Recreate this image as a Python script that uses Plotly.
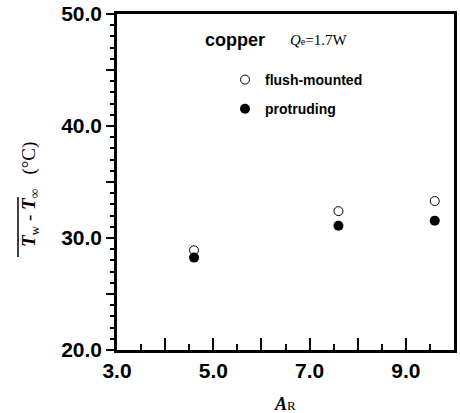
import plotly.graph_objects as go

# Data
ar_values = [4.6, 7.6, 9.6]
flush_mounted = [28.9, 32.4, 33.3]
protruding = [28.25, 31.1, 31.55]

x_tickvals = [3, 4, 5, 6, 7, 8, 9, 10]
x_ticktext = ["3.0", "", "5.0", "", "7.0", "", "9.0", ""]
y_tickvals = [20, 25, 30, 35, 40, 45, 50]
y_ticktext = ["20.0", "", "30.0", "", "40.0", "", "50.0"]

W, H = 460, 413
L, R, T, B = 117, 6, 14, 63
pw, ph = W - L - R, H - T - B

def px_x(p):
    return (p - L) / pw

def px_y(p):
    return (H - B - p) / ph

fig = go.Figure(layout=dict(template="none"))
fig.add_trace(go.Scatter(
    x=ar_values, y=flush_mounted, mode="markers", name="flush-mounted",
    legendgroup="a",
    marker=dict(symbol="circle-open", size=9, color="black", line=dict(width=1, color="black")),
))
fig.add_trace(go.Scatter(
    x=ar_values, y=protruding, mode="markers", name="protruding",
    legendgroup="b",
    marker=dict(symbol="circle", size=10, color="black"),
))

tfont = dict(family="Liberation Sans", size=21, color="black", weight="bold")

xaxis = dict(
    range=[3, 10], tickmode="array", tickvals=x_tickvals, ticktext=x_ticktext,
    showline=True, linewidth=2.5, linecolor="black", mirror=True,
    showgrid=False, zeroline=False,
    ticks="inside", ticklen=12, tickwidth=2, tickcolor="#000000", tickfont=tfont,
    minor=dict(tickmode="linear", tick0=3, dtick=0.5, ticks="inside", ticklen=6,
               tickwidth=2, tickcolor="#000000", showgrid=False),
)
yaxis = dict(
    range=[20, 50], tickmode="array", tickvals=y_tickvals, ticktext=y_ticktext,
    showline=True, linewidth=2.5, linecolor="black", mirror=True,
    showgrid=False, zeroline=False,
    ticks="outside", ticklen=8, tickwidth=2, tickcolor="#000000", tickfont=tfont,
    minor=dict(tickmode="linear", tick0=20, dtick=1, ticks="outside", ticklen=4,
               tickwidth=2, tickcolor="#000000", showgrid=False),
)

def ann(text, x, y, font, **kw):
    return dict(text=text, x=px_x(x), y=px_y(y), xref="paper", yref="paper",
                xanchor="center", yanchor="middle", showarrow=False, font=font, **kw)

annotations = [
    ann("copper", 235, 40, dict(family="Liberation Sans", size=18, color="black", weight="bold")),
    ann("<i>Q</i><span style='font-size:10px'>e</span>=1.7W", 319, 40,
        dict(family="Liberation Serif", size=15, color="black")),
    ann("<b><i>A</i></b><span style='font-size:13px'>R</span>", 285, 404,
        dict(family="Liberation Serif", size=18, color="black")),
    ann("<b><i>T</i></b><sub>w</sub> - <b><i>T</i></b><sub>∞</sub>\u00a0\u00a0\u00a0(°C)",
        30, 195, dict(family="Liberation Serif", size=19, color="black"), textangle=-90),
]

shapes = [
    dict(type="line", xref="paper", yref="paper", x0=px_x(18), x1=px_x(18),
         y0=px_y(257), y1=px_y(197), line=dict(color="black", width=1.5)),
]

fig.update_layout(
    width=W, height=H, margin=dict(l=L, r=R, t=T, b=B),
    paper_bgcolor="white", plot_bgcolor="white",
    xaxis=xaxis, yaxis=yaxis,
    annotations=annotations, shapes=shapes,
    showlegend=True,
    legend=dict(x=px_x(225), y=px_y(64), xanchor="left", yanchor="top",
                bgcolor="rgba(0,0,0,0)", traceorder="grouped", tracegroupgap=8,
                font=dict(family="Liberation Sans", size=14, color="black", weight="bold")),
)

fig.write_html("out.html")
